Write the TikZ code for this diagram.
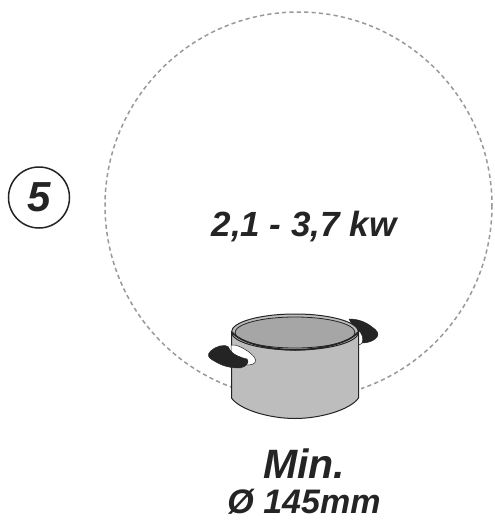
\documentclass[tikz,border=0pt]{standalone}
\usepackage{fontspec}
\setmainfont{Liberation Sans}
\definecolor{potbody}{gray}{0.74}
\definecolor{potinner}{gray}{0.65}
\definecolor{potline}{gray}{0.14}
\definecolor{zoneline}{gray}{0.6}
\tikzstyle{label} = [inner sep=0pt,
text centered,
font=\bfseries\itshape,
text=potline]
\tikzstyle{potedge} = [draw=potline,
line width=1pt,
line join=round]
\tikzstyle{grip} = [fill=potline,
draw=potline,
line width=.5pt,
line join=round]

\begin{document}
\begin{tikzpicture}[x=1pt,y=-1pt]
    \useasboundingbox (0,0) rectangle (495,520);
    %%%%%%%%%%%%%%%%%%%%%%%%%%%%%%%%%%%%%%%%
    % Zone
    %%%%%%%%%%%%%%%%%%%%%%%%%%%%%%%%%%%%%%%%
    \draw[zoneline, line width=1.5pt, dash pattern=on 4.2pt off 3.2pt] (298.5,205.5) circle (193.5);
    \node (power) [label, font=\fontsize{35}{35}\selectfont\bfseries\itshape] at (304,227) {2,1 - 3,7 kw};
    %%%%%%%%%%%%%%%%%%%%%%%%%%%%%%%%%%%%%%%%
    % Number
    %%%%%%%%%%%%%%%%%%%%%%%%%%%%%%%%%%%%%%%%
    \draw[potline, line width=1.5pt] (39,197.5) circle (30.5);
    \node (number) [label, font=\fontsize{42}{42}\selectfont\bfseries\itshape] at (39,197.5) {5};
    %%%%%%%%%%%%%%%%%%%%%%%%%%%%%%%%%%%%%%%%
    % Pot
    %%%%%%%%%%%%%%%%%%%%%%%%%%%%%%%%%%%%%%%%
    \fill[white] (231,305) rectangle (361,425);
    % back handle
    \path[grip] (349,319) .. controls (358,319) and (366,322) .. (372,327)
        .. controls (378,331) and (379,334) .. (377,337)
        .. controls (374,341) and (368,343) .. (362,343)
        .. controls (363,338) and (361,333) .. (355,330) -- cycle;
    \path[fill=white, draw=potline, line width=.5pt] (358,330) .. controls (362,333) and (364,339) .. (362,343) .. controls (361,344) and (360,345) .. (358,345) -- cycle;
    % body
    \path[potedge, fill=potbody] (231.5,332) -- (231.5,398)
        .. controls (240,410) and (270,418.5) .. (295,418.5)
        .. controls (320,418.5) and (350,410) .. (358.5,398)
        -- (358.5,332) -- cycle;
    % front handle
    \path[fill=white, draw=potline, line width=.5pt] (231,345) -- (235,345)
        .. controls (243,347) and (255,355) .. (255.5,360)
        .. controls (256,364) and (252,365) .. (246,365) -- (231,365) -- cycle;
    \path[grip] (225,345.5) .. controls (218,345) and (210,350) .. (208.5,354)
        .. controls (208,358) and (211,359) .. (216,362)
        .. controls (223,366) and (230,368) .. (240,368)
        .. controls (246,367) and (250,362) .. (247,359)
        .. controls (241,358) and (232,354) .. (230,350)
        .. controls (229,347) and (228,346) .. (225,345.5) -- cycle;
    % rim
    \path[potedge, fill=potbody] (295,332) ellipse (63.5 and 18);
    \path[draw=potline, line width=.8pt, fill=potinner] (295,332.5) ellipse (60 and 15.5);
    \draw[potline, line width=1.6pt] (232,332) .. controls (240,343) and (270,349.8) .. (295,349.8) .. controls (320,349.8) and (350,343) .. (358,332);
    %%%%%%%%%%%%%%%%%%%%%%%%%%%%%%%%%%%%%%%%
    % Size
    %%%%%%%%%%%%%%%%%%%%%%%%%%%%%%%%%%%%%%%%
    \node (minimum) [label, font=\fontsize{41}{41}\selectfont\bfseries\itshape] at (304,464) {Min.};
    \node (diameter) [label, font=\fontsize{34}{34}\selectfont\bfseries\itshape] at (304,502) {Ø 145mm};
\end{tikzpicture}
\end{document}
